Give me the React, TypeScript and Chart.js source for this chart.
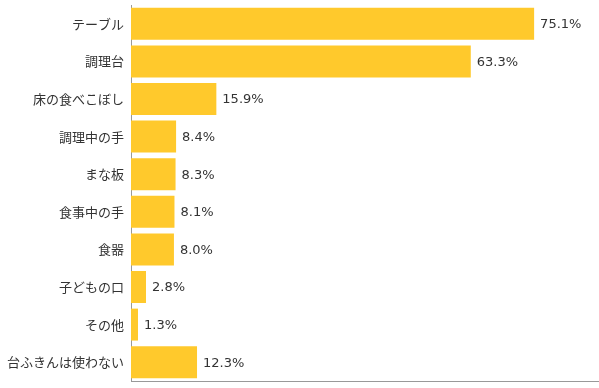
import React, { useEffect, useRef } from "react";
import { Chart, registerables } from "chart.js";

Chart.register(...registerables);

const categories = [
  "テーブル",
  "調理台",
  "床の食べこぼし",
  "調理中の手",
  "まな板",
  "食事中の手",
  "食器",
  "子どもの口",
  "その他",
  "台ふきんは使わない",
];
const values = [75.1, 63.3, 15.9, 8.4, 8.3, 8.1, 8.0, 2.8, 1.3, 12.3];

const FONT = "'Noto Sans CJK JP', 'Noto Sans', sans-serif";
const NUM_FONT = "'DejaVu Sans', sans-serif";

const valueLabels = {
  id: "valueLabels",
  afterDatasetsDraw(chart: any) {
    const ctx = chart.ctx;
    const meta = chart.getDatasetMeta(0);
    ctx.save();
    ctx.font = `13px ${NUM_FONT}`;
    ctx.fillStyle = "#333";
    ctx.textAlign = "left";
    ctx.textBaseline = "middle";
    meta.data.forEach((bar: any, i: number) => {
      ctx.fillText(values[i].toFixed(1) + "%", bar.x + 6, bar.y + 1);
    });
    ctx.restore();
  },
};

export default function App() {
  const ref = useRef<HTMLCanvasElement>(null);
  useEffect(() => {
    document.body.style.margin = "0";
    const chart = new Chart(ref.current!, {
      type: "bar",
      data: {
        labels: categories,
        datasets: [
          {
            data: values,
            backgroundColor: "#FFC92C",
            borderWidth: 0,
            barPercentage: 0.85,
            categoryPercentage: 1,
          },
        ],
      },
      options: {
        indexAxis: "y",
        animation: false,
        responsive: false,
        maintainAspectRatio: false,
        layout: { padding: { top: 5, right: 1, left: 0, bottom: 0 } },
        plugins: {
          legend: { display: false },
          tooltip: { enabled: false },
        },
        scales: {
          x: {
            min: 0,
            max: 87,
            grid: { display: false, drawTicks: false },
            ticks: { display: false },
            border: { display: true, color: "#999", width: 1 },
            afterFit: (s: any) => {
              s.height = 7;
              s.paddingLeft = 0;
              s.paddingRight = 0;
            },
          },
          y: {
            grid: { display: false, drawTicks: false },
            ticks: {
              color: "#333",
              padding: 7,
              font: { family: FONT, size: 13 },
            },
            border: { display: true, color: "#999", width: 1 },
            afterFit: (s: any) => {
              s.width = 131;
              s.paddingTop = 0;
              s.paddingBottom = 0;
            },
          },
        },
      },
      plugins: [valueLabels],
    });
    return () => chart.destroy();
  }, []);
  return (
    <div style={{ position: "absolute", left: 0, top: 0, width: 599, height: 388 }}>
      <canvas ref={ref} width={599} height={388} style={{ width: 599, height: 388, display: "block" }} />
    </div>
  );
}
